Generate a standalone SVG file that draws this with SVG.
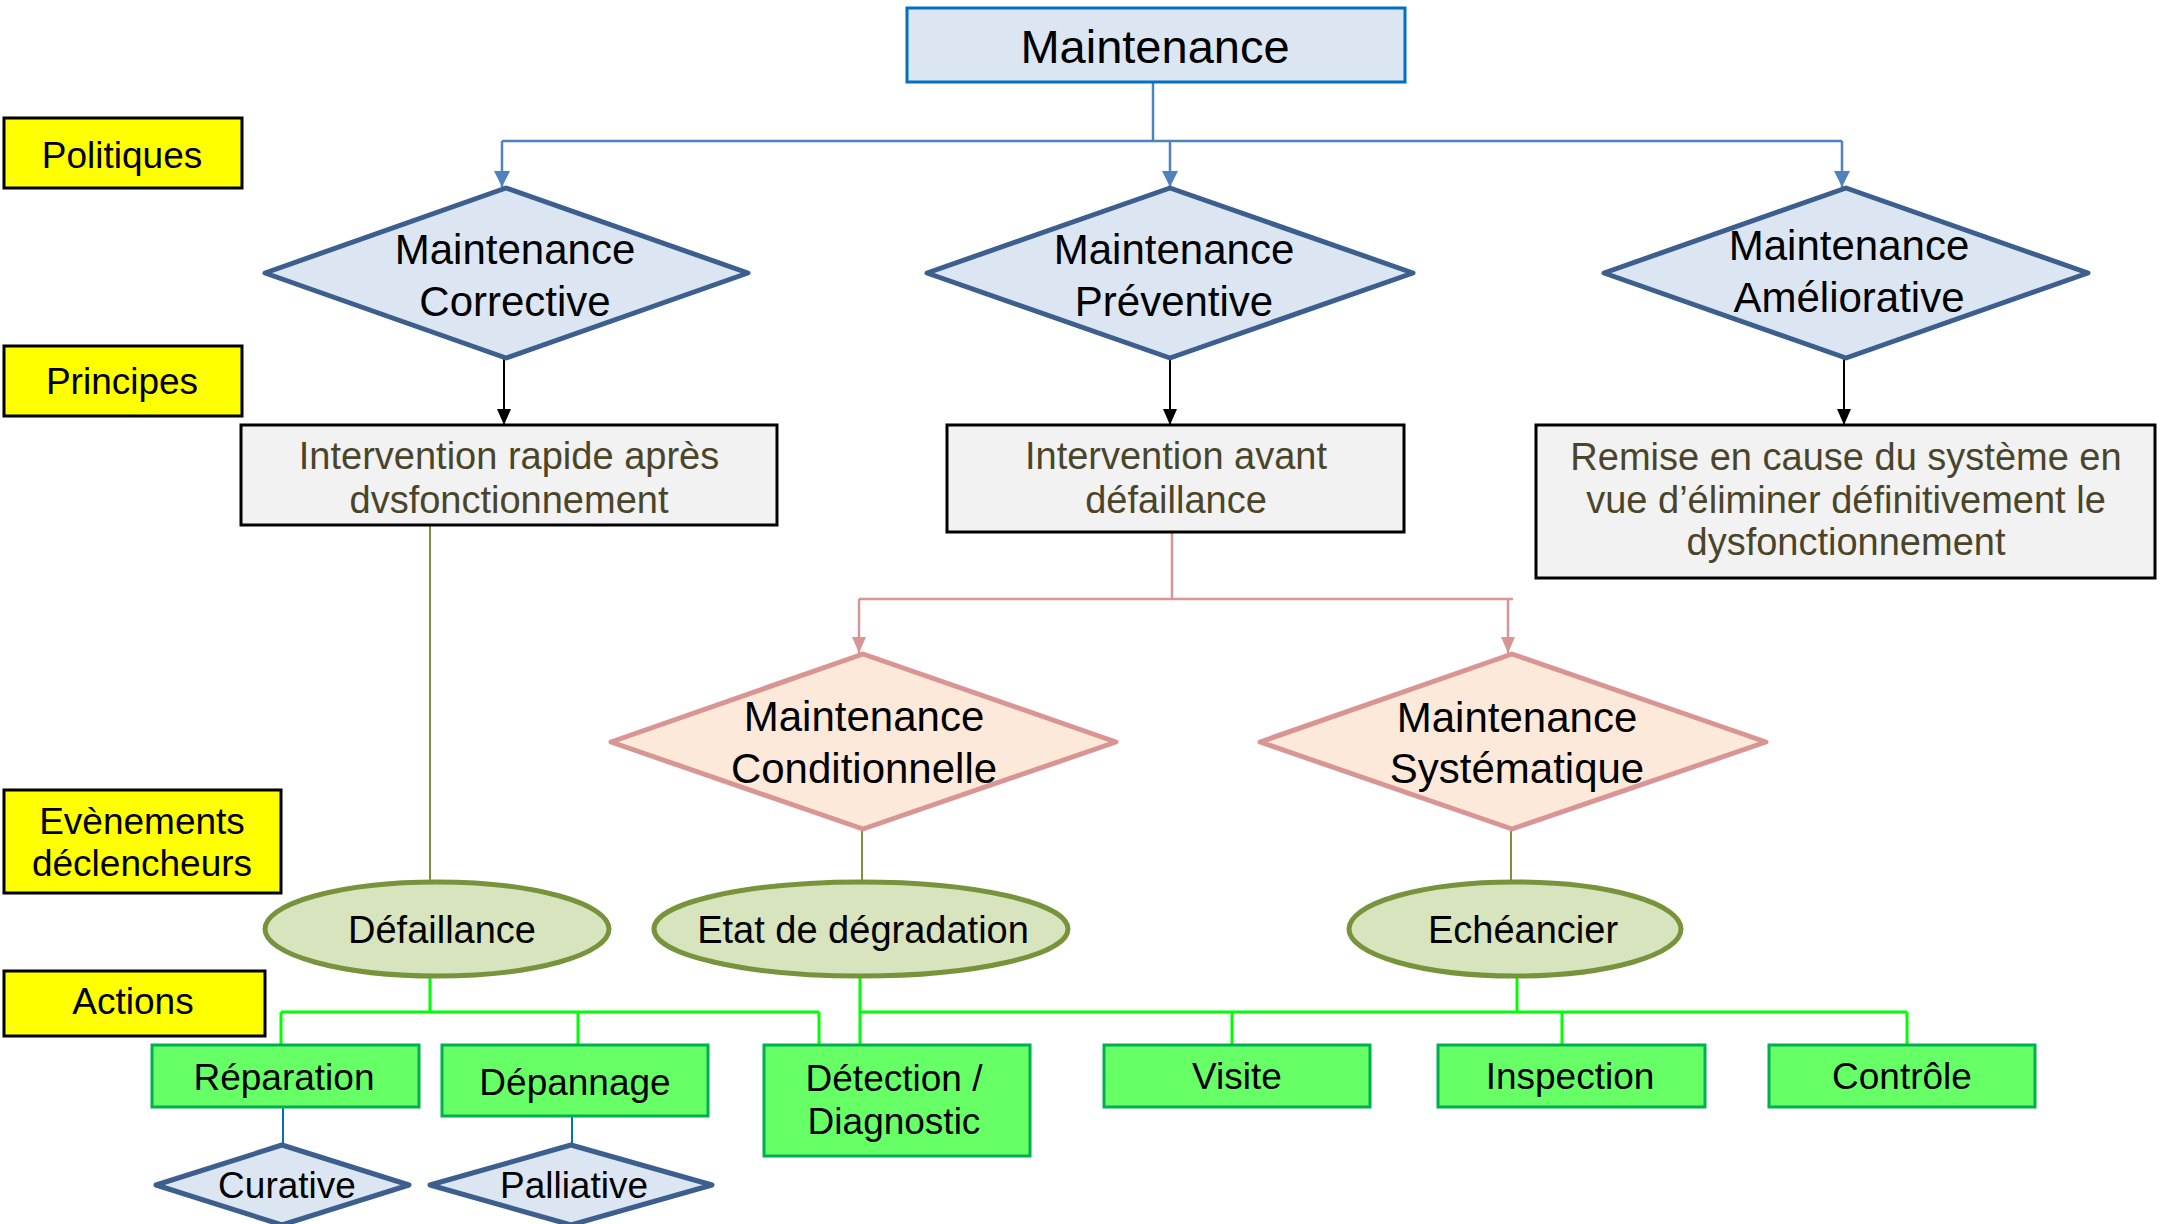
<svg xmlns="http://www.w3.org/2000/svg" width="2165" height="1224" viewBox="0 0 2165 1224">
  <style>
    text { font-family: "Liberation Sans", Arial, sans-serif; text-anchor: middle; fill: #000; }
    .t47 { font-size: 47px; }
    .t42 { font-size: 42px; }
    .t38 { font-size: 38px; }
    .t37 { font-size: 37px; }
    .olive-text { fill: #4A452A; }
    .label { fill: #FFFF00; stroke: #000; stroke-width: 3; }
    .top { fill: #DCE6F2; stroke: #0070C0; stroke-width: 3; }
    .dia-blue { fill: #DCE6F2; stroke: #3C5F8E; stroke-width: 5; stroke-linejoin: round; }
    .dia-pink { fill: #FCE9DA; stroke: #D99594; stroke-width: 5; stroke-linejoin: round; }
    .princ { fill: #F2F2F2; stroke: #000; stroke-width: 3; }
    .event { fill: #D7E4BD; stroke: #77933C; stroke-width: 5; }
    .action { fill: #66FF66; stroke: #00B050; stroke-width: 3; }
    .c-blue { fill: none; stroke: #4F81BD; stroke-width: 2.5; }
    .c-black { fill: none; stroke: #000; stroke-width: 2; }
    .c-pink { fill: none; stroke: #D99594; stroke-width: 2.5; }
    .c-olive { fill: none; stroke: #77933C; stroke-width: 2; }
    .c-green { fill: none; stroke: #00FF00; stroke-width: 3; }
    .c-dblue { fill: none; stroke: #0070C0; stroke-width: 2; }
  </style>
  <defs>
    <marker id="arrBlue" viewBox="0 0 16 16" refX="16" refY="8" markerWidth="16" markerHeight="16" markerUnits="userSpaceOnUse" orient="auto">
      <path d="M0,0 L16,8 L0,16 z" fill="#4F81BD"/>
    </marker>
    <marker id="arrBlack" viewBox="0 0 16 16" refX="16" refY="8" markerWidth="16" markerHeight="16" markerUnits="userSpaceOnUse" orient="auto">
      <path d="M0,1 L16,8 L0,15 z" fill="#000"/>
    </marker>
    <marker id="arrPink" viewBox="0 0 16 16" refX="16" refY="8" markerWidth="16" markerHeight="16" markerUnits="userSpaceOnUse" orient="auto">
      <path d="M0,1 L16,8 L0,15 z" fill="#D99594"/>
    </marker>
  </defs>

  <!-- connectors -->
  <g id="connectors">
    <!-- Maintenance to the three policies -->
    <path class="c-blue" d="M1153,82 V141"/>
    <path class="c-blue" d="M502,141 H1842"/>
    <path class="c-blue" d="M502,141 V187" marker-end="url(#arrBlue)"/>
    <path class="c-blue" d="M1170,141 V187" marker-end="url(#arrBlue)"/>
    <path class="c-blue" d="M1842,141 V187" marker-end="url(#arrBlue)"/>
    <!-- policies to principles -->
    <path class="c-black" d="M504,358 V425" marker-end="url(#arrBlack)"/>
    <path class="c-black" d="M1170,358 V425" marker-end="url(#arrBlack)"/>
    <path class="c-black" d="M1844,358 V425" marker-end="url(#arrBlack)"/>
    <!-- preventive split -->
    <path class="c-pink" d="M1172,533 V599"/>
    <path class="c-pink" d="M859,599 H1513"/>
    <path class="c-pink" d="M859,599 V653" marker-end="url(#arrPink)"/>
    <path class="c-pink" d="M1508,599 V653" marker-end="url(#arrPink)"/>
    <!-- to trigger events -->
    <path class="c-olive" d="M430,526 V882"/>
    <path class="c-olive" d="M862,830 V882"/>
    <path class="c-olive" d="M1511,830 V882"/>
    <!-- events to actions -->
    <path class="c-green" d="M430,976 V1012"/>
    <path class="c-green" d="M281,1012 H819"/>
    <path class="c-green" d="M281,1012 V1045"/>
    <path class="c-green" d="M578,1012 V1045"/>
    <path class="c-green" d="M819,1012 V1045"/>
    <path class="c-green" d="M860,976 V1045"/>
    <path class="c-green" d="M860,1012 H1907"/>
    <path class="c-green" d="M1232,1012 V1045"/>
    <path class="c-green" d="M1562,1012 V1045"/>
    <path class="c-green" d="M1907,1012 V1045"/>
    <path class="c-green" d="M1517,976 V1012"/>
    <!-- actions to sub-types -->
    <path class="c-dblue" d="M283,1107 V1145"/>
    <path class="c-dblue" d="M572,1116 V1145"/>
  </g>

  <!-- level labels -->
  <g id="label-politiques">
    <rect class="label" x="4" y="118" width="238" height="70"/>
    <text class="t37" x="122" y="168">Politiques</text>
  </g>
  <g id="label-principes">
    <rect class="label" x="4" y="346" width="238" height="70"/>
    <text class="t37" x="122" y="394">Principes</text>
  </g>
  <g id="label-evenements">
    <rect class="label" x="4" y="790" width="277" height="103"/>
    <text class="t37" x="142" y="834">Evènements</text>
    <text class="t37" x="142" y="876">déclencheurs</text>
  </g>
  <g id="label-actions">
    <rect class="label" x="4" y="971" width="261" height="65"/>
    <text class="t37" x="133" y="1014">Actions</text>
  </g>

  <!-- root -->
  <g id="maintenance">
    <rect class="top" x="907" y="8" width="498" height="74"/>
    <text class="t47" x="1155" y="63">Maintenance</text>
  </g>

  <!-- policies -->
  <g id="corrective">
    <polygon class="dia-blue" points="506,188 748,273 506,358 265,273"/>
    <text class="t42" x="515" y="264">Maintenance</text>
    <text class="t42" x="515" y="316">Corrective</text>
  </g>
  <g id="preventive">
    <polygon class="dia-blue" points="1170,188 1413,273 1170,358 927,273"/>
    <text class="t42" x="1174" y="264">Maintenance</text>
    <text class="t42" x="1174" y="316">Préventive</text>
  </g>
  <g id="ameliorative">
    <polygon class="dia-blue" points="1846,188 2088,273 1846,358 1604,273"/>
    <text class="t42" x="1849" y="260">Maintenance</text>
    <text class="t42" x="1849" y="312">Améliorative</text>
  </g>

  <!-- principles -->
  <g id="principe-corrective">
    <rect class="princ" x="241" y="425" width="536" height="100"/>
    <text class="t38 olive-text" x="509" y="469">Intervention rapide après</text>
    <text class="t38 olive-text" x="509" y="513">dvsfonctionnement</text>
  </g>
  <g id="principe-preventive">
    <rect class="princ" x="947" y="425" width="457" height="107"/>
    <text class="t38 olive-text" x="1176" y="469">Intervention avant</text>
    <text class="t38 olive-text" x="1176" y="513">défaillance</text>
  </g>
  <g id="principe-ameliorative">
    <rect class="princ" x="1536" y="425" width="619" height="153"/>
    <text class="t38 olive-text" x="1846" y="470">Remise en cause du système en</text>
    <text class="t38 olive-text" x="1846" y="513">vue d’éliminer définitivement le</text>
    <text class="t38 olive-text" x="1846" y="555">dysfonctionnement</text>
  </g>

  <!-- preventive sub-types -->
  <g id="conditionnelle">
    <polygon class="dia-pink" points="863,654 1116,742 863,829 611,742"/>
    <text class="t42" x="864" y="731">Maintenance</text>
    <text class="t42" x="864" y="783">Conditionnelle</text>
  </g>
  <g id="systematique">
    <polygon class="dia-pink" points="1512,654 1766,742 1512,829 1260,742"/>
    <text class="t42" x="1517" y="732">Maintenance</text>
    <text class="t42" x="1517" y="783">Systématique</text>
  </g>

  <!-- trigger events -->
  <g id="defaillance">
    <ellipse class="event" cx="437" cy="929" rx="172" ry="47"/>
    <text class="t38" x="442" y="943">Défaillance</text>
  </g>
  <g id="degradation">
    <ellipse class="event" cx="861" cy="929" rx="207" ry="47"/>
    <text class="t38" x="863" y="943">Etat de dégradation</text>
  </g>
  <g id="echeancier">
    <ellipse class="event" cx="1515" cy="929" rx="166" ry="47"/>
    <text class="t38" x="1523" y="943">Echéancier</text>
  </g>

  <!-- actions -->
  <g id="reparation">
    <rect class="action" x="152" y="1045" width="267" height="62"/>
    <text class="t37" x="284" y="1090">Réparation</text>
  </g>
  <g id="depannage">
    <rect class="action" x="442" y="1045" width="266" height="71"/>
    <text class="t37" x="575" y="1095">Dépannage</text>
  </g>
  <g id="detection">
    <rect class="action" x="764" y="1045" width="266" height="111"/>
    <text class="t37" x="894" y="1091">Détection /</text>
    <text class="t37" x="894" y="1134">Diagnostic</text>
  </g>
  <g id="visite">
    <rect class="action" x="1104" y="1045" width="266" height="62"/>
    <text class="t37" x="1237" y="1089">Visite</text>
  </g>
  <g id="inspection">
    <rect class="action" x="1438" y="1045" width="267" height="62"/>
    <text class="t37" x="1570" y="1089">Inspection</text>
  </g>
  <g id="controle">
    <rect class="action" x="1769" y="1045" width="266" height="62"/>
    <text class="t37" x="1902" y="1089">Contrôle</text>
  </g>

  <!-- corrective sub-types -->
  <g id="curative">
    <polygon class="dia-blue" points="282,1145 409,1185 282,1225 156,1185"/>
    <text class="t37" x="287" y="1198">Curative</text>
  </g>
  <g id="palliative">
    <polygon class="dia-blue" points="571,1145 712,1185 571,1225 430,1185"/>
    <text class="t37" x="574" y="1198">Palliative</text>
  </g>
</svg>
